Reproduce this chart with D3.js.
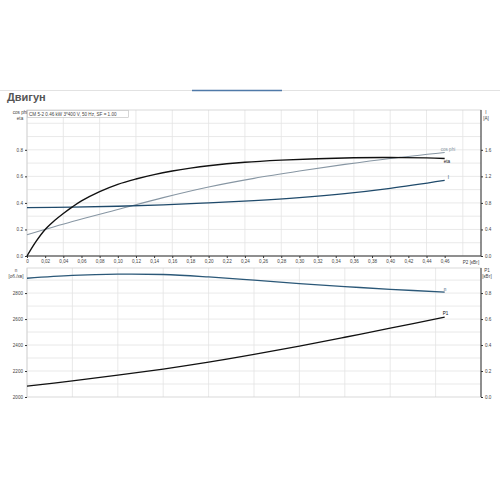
<!DOCTYPE html>
<html>
<head>
<meta charset="utf-8">
<script src="https://cdn.jsdelivr.net/npm/d3@7"></script>
<style>
  body { margin: 0; background: #fff; }
  svg { font-family: "Liberation Sans", Arial, sans-serif; }
  .tick text { font-size: 4.6px; fill: #444; }
  .lbl { font-size: 4.6px; fill: #444; }
</style>
</head>
<body>
<svg id="chart" width="500" height="500"></svg>
<script>
'use strict';

// P2 [kW] sample points
const p2Top = [0, 0.01, 0.02, 0.03, 0.04, 0.05, 0.06, 0.08, 0.10, 0.12, 0.14, 0.16, 0.18, 0.20, 0.24, 0.28, 0.32, 0.36, 0.40, 0.44, 0.46];
const etaValues = [0, 0.11, 0.20, 0.265, 0.32, 0.37, 0.415, 0.485, 0.54, 0.58, 0.613, 0.64, 0.662, 0.68, 0.706, 0.722, 0.733, 0.74, 0.742, 0.739, 0.735];

const p2Mid = [0, 0.05, 0.10, 0.15, 0.20, 0.25, 0.30, 0.35, 0.40, 0.46];
const cosPhiValues = [0.16, 0.26, 0.35, 0.44, 0.52, 0.585, 0.64, 0.69, 0.735, 0.78];
const currentValues = [0.73, 0.735, 0.75, 0.77, 0.80, 0.835, 0.88, 0.94, 1.02, 1.14];   // A

const p2Bottom = [0, 0.05, 0.10, 0.15, 0.20, 0.25, 0.30, 0.35, 0.40, 0.46];
const speedValues = [2914, 2936, 2946, 2943, 2924, 2899, 2873, 2850, 2829, 2808];       // rpm
const p1Values = [0.083, 0.124, 0.168, 0.215, 0.268, 0.328, 0.392, 0.46, 0.53, 0.615];  // kW

const xTicksTop = d3.range(0, 0.4601, 0.02);
const leftTicksTop = [0, 0.2, 0.4, 0.6, 0.8];
const rightTicksTop = [0, 0.4, 0.8, 1.2, 1.6];
const leftTicksBottom = [2000, 2200, 2400, 2600, 2800];
const rightTicksBottom = [0, 0.2, 0.4, 0.6, 0.8];

const svg = d3.select('#chart');

const plotLeft = 27, plotRight = 481;
const top1 = 110, bottom1 = 256;
const top2 = 268, bottom2 = 397;

const x = d3.scaleLinear().domain([0, 0.5]).range([plotLeft, plotRight]);
const yLeft1 = d3.scaleLinear().domain([0, 1.1]).range([bottom1, top1]);
const yRight1 = d3.scaleLinear().domain([0, 2.2]).range([bottom1, top1]);
const yLeft2 = d3.scaleLinear().domain([2000, 2993]).range([bottom2, top2]);
const yRight2 = d3.scaleLinear().domain([0, 0.993]).range([bottom2, top2]);

// header
svg.append('line').attr('x1', 0).attr('x2', 500).attr('y1', 90.5).attr('y2', 90.5)
  .attr('stroke', '#e2e2e2').attr('stroke-width', 1);
svg.append('line').attr('x1', 192).attr('x2', 282).attr('y1', 90.5).attr('y2', 90.5)
  .attr('stroke', '#4f79a8').attr('stroke-width', 1.5);
svg.append('text').attr('x', 7).attr('y', 101).text('Двигун')
  .style('font-size', '11px').style('font-weight', 'bold').style('fill', '#555');

function grid(yScale, top, bottom, xStep, yValues) {
  const g = svg.append('g');
  g.selectAll('line.v').data(d3.range(0, 0.5, xStep)).enter().append('line')
    .attr('x1', d => x(d)).attr('x2', d => x(d))
    .attr('y1', top).attr('y2', bottom)
    .attr('stroke', '#e3e3e3').attr('stroke-width', 0.8);
  g.selectAll('line.h').data(yValues).enter().append('line')
    .attr('x1', plotLeft).attr('x2', plotRight)
    .attr('y1', d => yScale(d)).attr('y2', d => yScale(d))
    .attr('stroke', '#e3e3e3').attr('stroke-width', 0.8);
  g.append('rect').attr('x', plotLeft).attr('y', top)
    .attr('width', plotRight - plotLeft).attr('height', bottom - top)
    .attr('fill', 'none').attr('stroke', '#cfcfcf').attr('stroke-width', 0.8);
}

grid(yLeft1, top1, bottom1, 0.04, d3.range(0.1, 1.1, 0.1));
grid(yLeft2, top2, bottom2, 0.05, d3.range(2100, 2993, 100));

// axes top chart
const fmtDot = d => d.toFixed(1);
svg.append('g').attr('transform', `translate(0,${bottom1})`)
  .call(d3.axisBottom(x).tickValues(xTicksTop).tickSize(2).tickPadding(2)
    .tickFormat(d => d === 0 ? '0' : d.toFixed(2).replace('.', ',')))
  .call(g => g.select('.domain').attr('d', `M${plotLeft},0H${plotRight}`));
svg.append('g').attr('transform', `translate(${plotLeft},0)`)
  .call(d3.axisLeft(yLeft1).tickValues(leftTicksTop).tickSize(2).tickPadding(2).tickFormat(fmtDot))
  .call(g => g.select('.domain').remove());
svg.append('g').attr('transform', `translate(${plotRight},0)`)
  .call(d3.axisRight(yRight1).tickValues(rightTicksTop).tickSize(2).tickPadding(2).tickFormat(fmtDot))
  .call(g => g.select('.domain').attr('d', `M0,${top1}V${bottom1}`));

// axes bottom chart
svg.append('g').attr('transform', `translate(${plotLeft},0)`)
  .call(d3.axisLeft(yLeft2).tickValues(leftTicksBottom).tickSize(2).tickPadding(2).tickFormat(d3.format('d')))
  .call(g => g.select('.domain').remove());
svg.append('g').attr('transform', `translate(${plotRight},0)`)
  .call(d3.axisRight(yRight2).tickValues(rightTicksBottom).tickSize(2).tickPadding(2).tickFormat(fmtDot))
  .call(g => g.select('.domain').attr('d', `M0,${top2}V${bottom2}`));

svg.selectAll('.tick line').attr('stroke', '#333');
svg.selectAll('.domain').attr('stroke', '#333');

// axis captions
function label(x0, y0, txt, anchor, color) {
  svg.append('text').attr('class', 'lbl').attr('x', x0).attr('y', y0)
    .attr('text-anchor', anchor || 'start').style('fill', color || '#444').text(txt);
}
label(20, 114, 'cos phi', 'middle');
label(20, 119.5, 'eta', 'middle');
label(486, 114, 'I', 'middle');
label(486, 119.5, '[A]', 'middle');
label(471, 263.5, 'P2 [кВт]', 'middle');
label(16, 272, 'n', 'middle');
label(16, 278, '[об./хв]', 'middle');
label(487, 272, 'P1', 'middle');
label(487, 278, '[кВт]', 'middle');

// legend box
svg.append('rect').attr('x', plotLeft + 0.5).attr('y', top1 + 0.5).attr('width', 101).attr('height', 7)
  .attr('fill', '#fff').attr('stroke', '#bbb').attr('stroke-width', 0.6);
label(plotLeft + 2, top1 + 5.6, 'CM 5-2   0.46 kW   3*400 V, 50 Hz,  SF = 1.00');

// curves
function curve(xs, ys, yScale, color, width) {
  const pts = xs.map((d, i) => [d, ys[i]]);
  svg.append('path').datum(pts)
    .attr('fill', 'none').attr('stroke', color).attr('stroke-width', width)
    .attr('d', d3.line().x(d => x(d[0])).y(d => yScale(d[1])).curve(d3.curveCatmullRom.alpha(0.5)));
}

curve(p2Mid, cosPhiValues, yLeft1, '#8796a3', 1.1);
curve(p2Mid, currentValues, yRight1, '#1f4a6b', 1.3);
curve(p2Top, etaValues, yLeft1, '#111', 1.4);
curve(p2Bottom, speedValues, yLeft2, '#2b5878', 1.3);
curve(p2Bottom, p1Values, yRight2, '#111', 1.3);

const last = arr => arr[arr.length - 1];
label(x(0.46) - 4, yLeft1(last(cosPhiValues)) - 1.5, 'cos phi', 'start', '#8796a3');
label(x(0.46) - 1, yLeft1(last(etaValues)) + 5, 'eta', 'start', '#111');
label(x(0.46) + 3, yRight1(last(currentValues)) - 1.5, 'I', 'start', '#1f4a6b');
label(x(0.46) - 1, yLeft2(last(speedValues)) - 1.5, 'n', 'start', '#2b5878');
label(x(0.46) - 2, yRight2(last(p1Values)) - 2, 'P1', 'start', '#111');
</script>
</body>
</html>
